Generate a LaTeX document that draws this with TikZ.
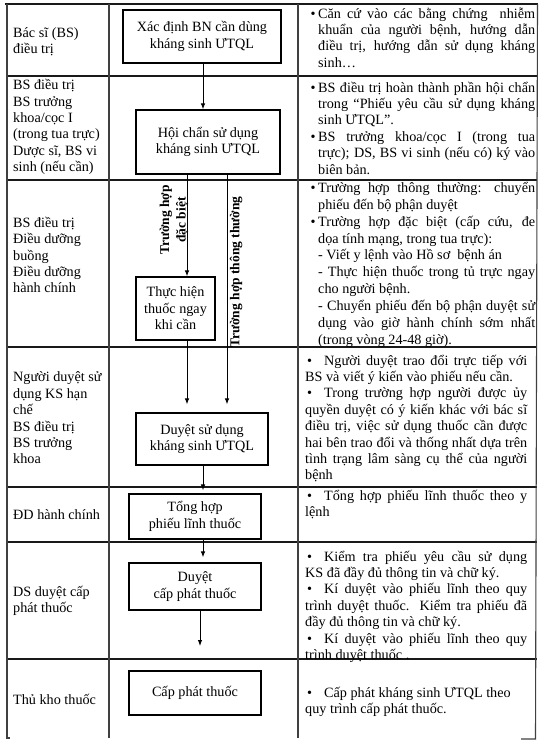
\documentclass[tikz,border=0pt]{standalone}
\usepackage{fontspec}
\setmainfont{Liberation Serif}
\usetikzlibrary{arrows.meta}
\newcommand\hitem{\par\hangindent=13pt\hangafter=1\noindent\makebox[13pt][r]{\textbullet\hspace{2.5pt}}}
\newcommand\hdash{\par\hangindent=13pt\hangafter=0\noindent}
\newcommand\fitem{\par\noindent\makebox[19pt][l]{\hspace{2pt}\textbullet}}
\newcommand\sA{\rule{0pt}{15pt}}
\begin{document}
\begin{tikzpicture}[x=1pt,y=-1pt,
  hline/.style={line width=1.1pt, black!90},
  vline/.style={line width=1.1pt, black!75},
  proc/.style={draw, line width=1.2pt, align=center, inner sep=0pt, font=\fontsize{14.2}{16.4}\selectfont},
  arr/.style={line width=0.9pt, -{Latex[length=6pt,width=4.5pt]}},
  lane/.style={anchor=west, align=left, inner sep=0pt, font=\fontsize{14.2}{16.4}\selectfont},
  desc/.style={anchor=north west, text width=230pt, align=justify, inner sep=0pt, font=\fontsize{14.2}{16.4}\selectfont},
  descb/.style={desc, text width=222pt},
  vlab/.style={rotate=90, align=center, inner sep=0pt, font=\bfseries\fontsize{13.5}{16.5}\selectfont}
]
\useasboundingbox (0,0) rectangle (541,744);

% table frame
\draw[hline] (5,4) -- (538,4);
\foreach \yy in {76,180,347,487,542,659}
  \draw[hline] (7,\yy) -- (537,\yy);
\draw[vline] (7,4) -- (7,738) -- (10,738);
\draw[vline] (109,4) -- (109,738);
\draw[vline] (298,4) -- (298,738);
\draw[vline] (537.5,4) -- (535.5,739) -- (521,739);

% lane labels
\node[lane] (l1) at (13,42) {Bác sĩ (BS)\\điều trị};
\node[lane] (l2) at (13,127) {BS điều trị\\BS trưởng\\khoa/cọc I\\(trong tua trực)\\Dược sĩ, BS vi\\sinh (nếu cần)};
\node[lane] (l3) at (13,255) {BS điều trị\\Điều dưỡng\\buồng\\Điều dưỡng\\hành chính};
\node[lane] (l4) at (13,418) {Người duyệt sử\\dụng KS hạn\\chế\\BS điều trị\\BS trưởng\\khoa};
\node[lane] (l5) at (13,515) {ĐD hành chính};
\node[lane] (l6) at (13,601) {DS duyệt cấp\\phát thuốc};
\node[lane] (l7) at (13,699) {Thủ kho thuốc};

% process boxes
\node[proc, minimum width=158pt, minimum height=53pt] (b1) at (202,36.5) {Xác định BN cần dùng\\kháng sinh ƯTQL};
\node[proc, minimum width=144pt, minimum height=64pt] (b2) at (208,142) {Hội chẩn sử dụng\\kháng sinh ƯTQL};
\node[proc, minimum width=79pt, minimum height=63pt] (b3) at (175.5,308.5) {Thực hiện\\thuốc ngay\\khi cần};
\node[proc, minimum width=132pt, minimum height=52pt] (b4) at (202,439) {Duyệt sử dụng\\kháng sinh ƯTQL};
\node[proc, minimum width=132pt, minimum height=45pt] (b5) at (195,516.5) {Tổng hợp\\phiếu lĩnh thuốc};
\node[proc, minimum width=132pt, minimum height=47pt] (b6) at (195,586.5) {Duyệt\\cấp phát thuốc};
\node[proc, minimum width=132pt, minimum height=44pt] (b7) at (195,693) {Cấp phát thuốc};

% connectors
\coordinate (xa) at (187,0);
\coordinate (xb) at (227,0);
\coordinate (xc) at (203,0);
\coordinate (e6) at (200,646);
\draw[arr] (b1.south -| xc) -- (b2.north -| xc);
\draw[arr] (b2.south -| xa) -- (b3.north -| xa);
\draw[arr, shorten >=8pt] (b3.south -| xa) -- (b4.north -| xa);
\draw[arr, shorten >=8pt] (b2.south -| xb) -- (b4.north -| xb);
\draw[arr, shorten >=3pt] (b4.south -| xc) -- (b5.north -| xc);
\draw[arr, shorten >=5pt] (b5.south -| xc) -- (b6.north -| xc);
\draw[arr] (b6.south -| e6) -- (e6);

% rotated labels
\node[vlab] (t1) at (174,220) {Trường hợp\\đặc biệt};
\node[vlab] (t2) at (236,272) {Trường hợp thông thường};

% descriptions
\node[desc] (d1) at (305,1.5) {\hitem\sA Căn cứ vào các bằng chứng\ \ nhiễm\linebreak khuẩn của người bệnh, hướng dẫn\linebreak điều trị, hướng dẫn sử dụng kháng\linebreak sinh…\par};
\node[desc] (d2) at (305,75.5) {\hitem\sA BS điều trị hoàn thành phần hội chẩn\linebreak trong “Phiếu yêu cầu sử dụng kháng\linebreak sinh ƯTQL”.
\hitem BS trưởng khoa/cọc I (trong tua\linebreak trực); DS, BS vi sinh (nếu có) ký vào\linebreak biên bản.\par};
\node[desc, font=\fontsize{14.2}{16.95}\selectfont] (d3) at (305,175) {\hitem\sA Trường hợp thông thường: chuyển\linebreak phiếu đến bộ phận duyệt
\hitem Trường hợp đặc biệt (cấp cứu, đe\linebreak dọa tính mạng, trong tua trực):
\hdash - Viết y lệnh vào Hồ sơ\ \ bệnh án
\hdash - Thực hiện thuốc trong tủ trực ngay\linebreak cho người bệnh.
\hdash - Chuyển phiếu đến bộ phận duyệt sử\linebreak dụng vào giờ hành chính sớm nhất\linebreak (trong vòng 24-48 giờ).\par};
\node[descb] (d4) at (305,348.5) {\fitem\sA Người duyệt trao đổi trực tiếp với\linebreak BS và viết ý kiến vào phiếu nếu cần.
\fitem Trong trường hợp người được ủy\linebreak quyền duyệt có ý kiến khác với bác sĩ\linebreak điều trị, việc sử dụng thuốc cần được\linebreak hai bên trao đổi và thống nhất dựa trên\linebreak tình trạng lâm sàng cụ thể của người\linebreak bệnh\par};
\node[descb] (d5) at (305,483.5) {\fitem\sA Tổng hợp phiếu lĩnh thuốc theo y\linebreak lệnh\par};
\node[descb] (d6) at (305,544.5) {\fitem\sA Kiểm tra phiếu yêu cầu sử dụng\linebreak KS đã đầy đủ thông tin và chữ ký.
\fitem Kí duyệt vào phiếu lĩnh theo quy\linebreak trình duyệt thuốc. Kiểm tra phiếu đã\linebreak đầy đủ thông tin và chữ ký.
\fitem Kí duyệt vào phiếu lĩnh theo quy\linebreak trình duyệt thuốc .\par};
\node[descb] (d7) at (305,680.5) {\fitem\sA Cấp phát kháng sinh ƯTQL theo\par\noindent quy trình cấp phát thuốc.\par};
\end{tikzpicture}
\end{document}
